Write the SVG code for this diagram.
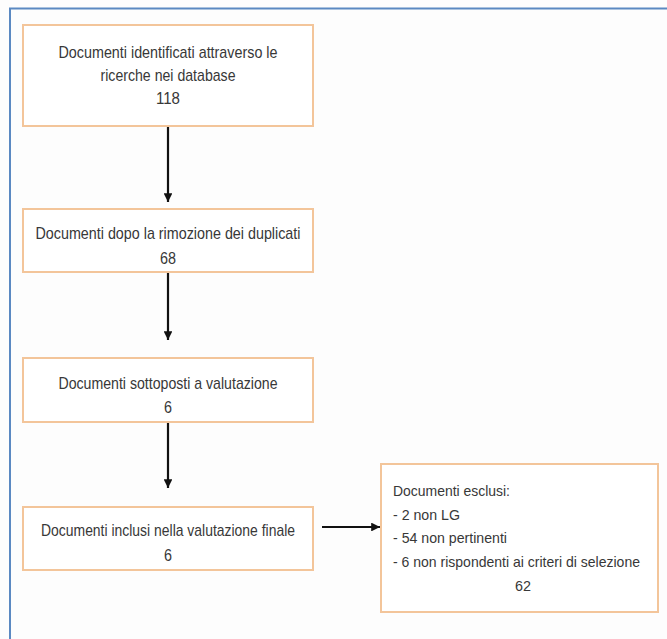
<svg xmlns="http://www.w3.org/2000/svg" width="667" height="639" viewBox="0 0 667 639">
  <defs>
    <style>
      .box { fill: #ffffff; stroke: #f3c59a; stroke-width: 2; }
      .t { font-family: "Liberation Sans", Arial, sans-serif; font-size: 17px; fill: #383838; }
      .s { font-size: 14.5px; }
      .c { text-anchor: middle; }
      .conn { stroke: #111111; stroke-width: 2.2; fill: none; }
    </style>
    <marker id="ah" viewBox="0 0 10 10" refX="10" refY="5" markerWidth="4.5" markerHeight="4" markerUnits="strokeWidth" orient="auto">
      <path d="M0,0 L10,5 L0,10 z" fill="#111111"/>
    </marker>
  </defs>
  <rect x="0" y="0" width="667" height="639" fill="#fdfdfd"/>
  <rect x="10" y="8.5" width="700" height="700" fill="none" stroke="#5b89c2" stroke-width="2"/>

  <g id="connectors">
    <line class="conn" x1="168" y1="127" x2="168" y2="202" marker-end="url(#ah)"/>
    <line class="conn" x1="168" y1="273" x2="168" y2="340" marker-end="url(#ah)"/>
    <line class="conn" x1="168" y1="423" x2="168" y2="488" marker-end="url(#ah)"/>
    <line class="conn" x1="322" y1="527" x2="380" y2="527" marker-end="url(#ah)"/>
  </g>

  <g id="n1">
    <rect class="box" x="23" y="25" width="290" height="101"/>
    <text class="t c" x="168" y="58" textLength="219" lengthAdjust="spacingAndGlyphs">Documenti identificati attraverso le</text>
    <text class="t c" x="168" y="81" textLength="135" lengthAdjust="spacingAndGlyphs">ricerche nei database</text>
    <text class="t c" x="168" y="104" textLength="24" lengthAdjust="spacingAndGlyphs">118</text>
  </g>
  <g id="n2">
    <rect class="box" x="23" y="209" width="290" height="63"/>
    <text class="t c" x="168" y="239" textLength="265" lengthAdjust="spacingAndGlyphs">Documenti dopo la rimozione dei duplicati</text>
    <text class="t c" x="168" y="264" textLength="16" lengthAdjust="spacingAndGlyphs">68</text>
  </g>
  <g id="n3">
    <rect class="box" x="23" y="358" width="290" height="64"/>
    <text class="t c" x="168" y="389" textLength="219" lengthAdjust="spacingAndGlyphs">Documenti sottoposti a valutazione</text>
    <text class="t c" x="168" y="413" textLength="8" lengthAdjust="spacingAndGlyphs">6</text>
  </g>
  <g id="n4">
    <rect class="box" x="23" y="507" width="290" height="63"/>
    <text class="t c" x="168" y="536" textLength="254" lengthAdjust="spacingAndGlyphs">Documenti inclusi nella valutazione finale</text>
    <text class="t c" x="168" y="561" textLength="8" lengthAdjust="spacingAndGlyphs">6</text>
  </g>
  <g id="n5">
    <rect class="box" x="381" y="464" width="277" height="148"/>
    <text class="t s" x="393" y="496" textLength="117" lengthAdjust="spacingAndGlyphs">Documenti esclusi:</text>
    <text class="t s" x="393" y="520" textLength="67" lengthAdjust="spacingAndGlyphs">- 2 non LG</text>
    <text class="t s" x="393" y="543" textLength="114" lengthAdjust="spacingAndGlyphs">- 54 non pertinenti</text>
    <text class="t s" x="393" y="567" textLength="247" lengthAdjust="spacingAndGlyphs">- 6 non rispondenti ai criteri di selezione</text>
    <text class="t s c" x="523" y="591" textLength="16" lengthAdjust="spacingAndGlyphs">62</text>
  </g>
</svg>
